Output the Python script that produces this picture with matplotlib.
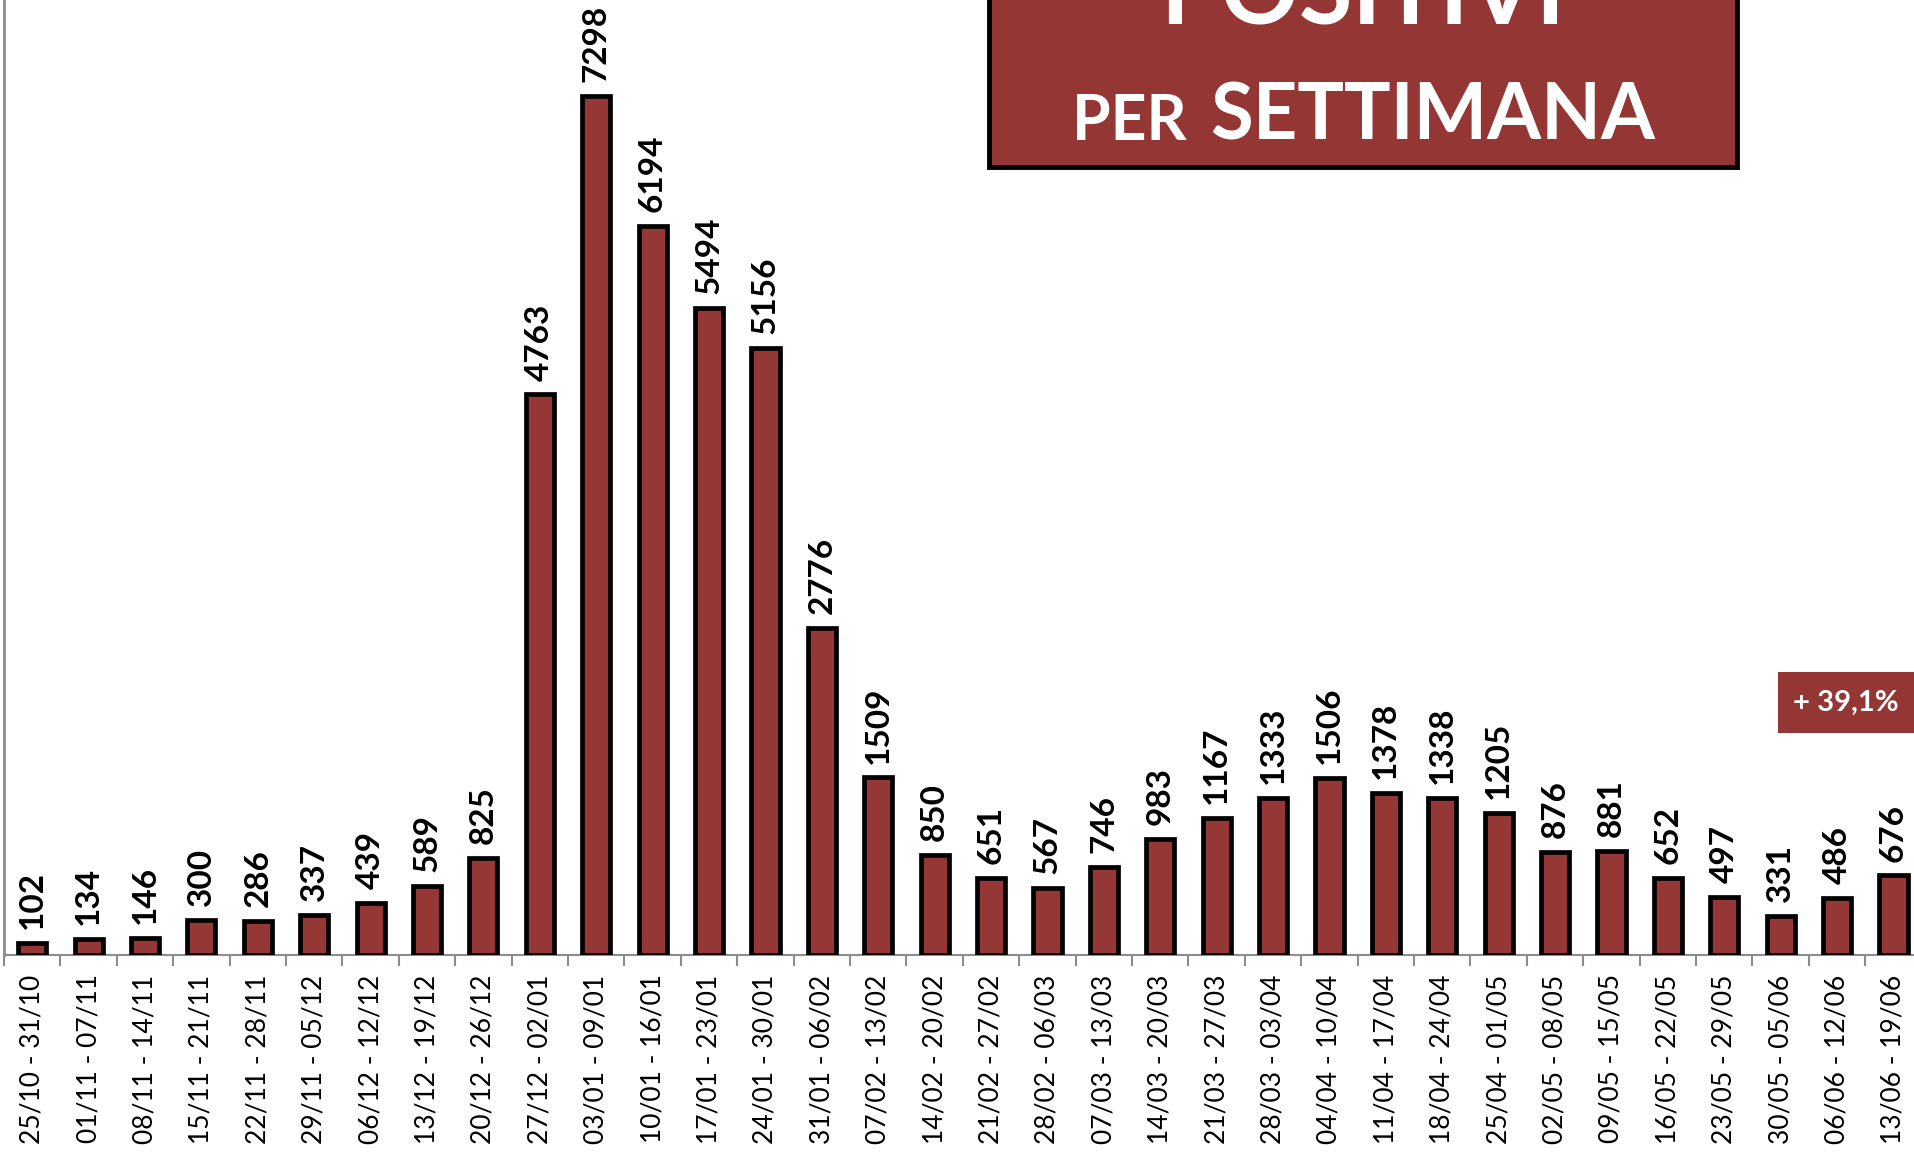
import matplotlib
matplotlib.use("Agg")
import matplotlib.pyplot as plt
from matplotlib.patches import Rectangle
import numpy as np

weeks = ["25/10 - 31/10", "01/11 - 07/11", "08/11 - 14/11", "15/11 - 21/11", "22/11 - 28/11",
         "29/11 - 05/12", "06/12 - 12/12", "13/12 - 19/12", "20/12 - 26/12", "27/12 - 02/01",
         "03/01 - 09/01", "10/01 - 16/01", "17/01 - 23/01", "24/01 - 30/01", "31/01 - 06/02",
         "07/02 - 13/02", "14/02 - 20/02", "21/02 - 27/02", "28/02 - 06/03", "07/03 - 13/03",
         "14/03 - 20/03", "21/03 - 27/03", "28/03 - 03/04", "04/04 - 10/04", "11/04 - 17/04",
         "18/04 - 24/04", "25/04 - 01/05", "02/05 - 08/05", "09/05 - 15/05", "16/05 - 22/05",
         "23/05 - 29/05", "30/05 - 05/06", "06/06 - 12/06", "13/06 - 19/06"]
positivi = [102, 134, 146, 300, 286, 337, 439, 589, 825, 4763,
            7298, 6194, 5494, 5156, 2776, 1509, 850, 651, 567, 746,
            983, 1167, 1333, 1506, 1378, 1338, 1205, 876, 881, 652,
            497, 331, 486, 676]
title_top = "POSITIVI"
title_small = "PER"
title_big = "SETTIMANA"
variation = "+ 39,1%"

RED = "#953735"
FONT = "Lato"

W, H = 1915, 1160
fig = plt.figure(figsize=(W / 100, H / 100), dpi=100)

ax_left, ax_right = 4, 1921.6
ax_bottom = 955
ax = fig.add_axes([ax_left / W, (H - ax_bottom) / H, (ax_right - ax_left) / W, ax_bottom / H])

x = np.arange(len(positivi))
bars = ax.bar(x, positivi, width=0.5, color=RED, edgecolor="black", linewidth=3.4, zorder=3)
ax.set_xlim(-0.5, len(positivi) - 0.5)
ax.set_ylim(0, 955 / 0.1177)

for xi, v in zip(x, positivi):
    ax.annotate(str(v), (xi, v), xytext=(0, 10), textcoords="offset points",
                rotation=90, ha="center", va="bottom", fontsize=24,
                fontweight="bold", family=FONT, color="black")

ax.set_xticks(x)
ax.set_xticklabels(weeks, rotation=90, fontsize=19, family=FONT, va="top")
ax.tick_params(axis="x", which="major", length=0, pad=14)
ax.set_xticks(np.arange(len(positivi) + 1) - 0.5, minor=True)
ax.tick_params(axis="x", which="minor", length=8, width=1.5, color="#8c8c8c", direction="out")
ax.set_yticks([])
for s in ["top", "right"]:
    ax.spines[s].set_visible(False)
ax.spines["left"].set_color("#8c8c8c")
ax.spines["left"].set_linewidth(2)
ax.spines["bottom"].set_color("#8c8c8c")
ax.spines["bottom"].set_linewidth(1.5)

# Title box
bx0, bx1, by1 = 989, 1737, 167
fig.patches.append(Rectangle((bx0 / W, (H - by1) / H), (bx1 - bx0) / W, (by1 + 40) / H,
                             transform=fig.transFigure, facecolor="#943634",
                             edgecolor="black", linewidth=3.5, zorder=5))
cx = (bx0 + bx1) / 2
fig.text(cx / W, (H - 23) / H, title_top, ha="center", va="baseline", fontsize=70,
         fontweight="bold", family=FONT, color="white", zorder=6)
fig.text(1072 / W, (H - 140) / H, title_small, ha="left", va="baseline", fontsize=45,
         fontweight="bold", family=FONT, color="white", zorder=6)
fig.text(1655 / W, (H - 140) / H, title_big, ha="right", va="baseline", fontsize=56,
         fontweight="bold", family=FONT, color="white", zorder=6)

# Variation box
vx0, vx1, vy0, vy1 = 1778, 1930, 672, 733
fig.patches.append(Rectangle((vx0 / W, (H - vy1) / H), (vx1 - vx0) / W, (vy1 - vy0) / H,
                             transform=fig.transFigure, facecolor="#943634",
                             edgecolor="none", zorder=5))
fig.text(1846 / W, (H - 703) / H, variation, ha="center", va="center", fontsize=21,
         fontweight="bold", family=FONT, color="white", zorder=6)

fig.savefig("out.png", dpi=100)
